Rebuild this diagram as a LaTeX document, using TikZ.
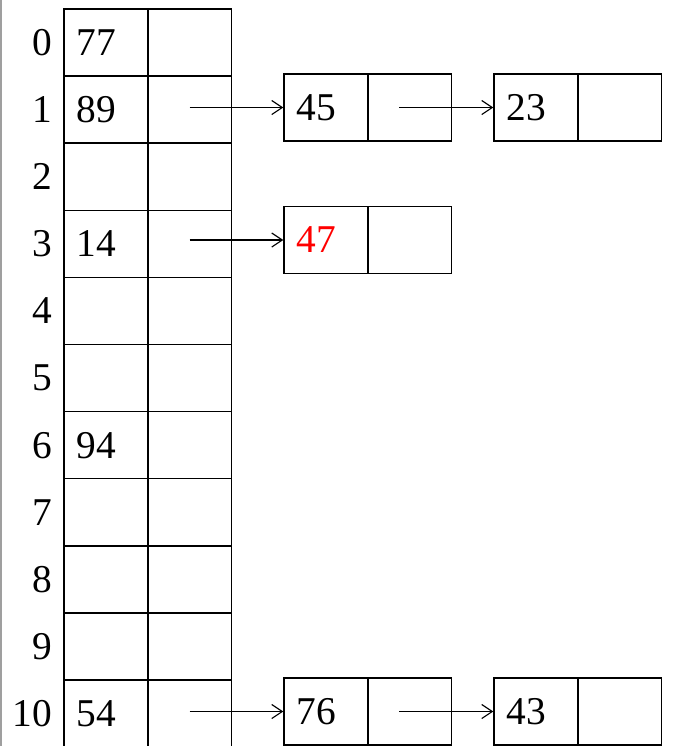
\documentclass[tikz,border=0pt]{standalone}
\usepackage{fontspec}
\setmainfont{Liberation Serif}
\usetikzlibrary{arrows.meta}

\tikzset{
  cell/.style={draw,line width=1pt,minimum height=1.6775cm,inner xsep=0.325cm,
    inner ysep=0pt,text width=1.45cm,align=left,font=\fontsize{28}{30}\selectfont},
  idx/.style={anchor=east,inner sep=0pt,font=\fontsize{28}{30}\selectfont},
  >={Straight Barb[length=7.5pt,width=10pt]}
}

\begin{document}
\begin{tikzpicture}[x=0.025cm,y=-0.025cm]
                \useasboundingbox (0,0) rectangle (679,746);
                \fill[gray!75] (0,0) rectangle (2.5,746);
                % hash table
                \foreach \i/\v in {0/77,1/89,2/{},3/14,4/{},5/{},6/94,7/{},8/{},9/{},10/54} {
                    \node[cell] (k\i) at (106,{9+67.1*(\i+0.5)}) {\v};
                    \node[cell] (p\i) at (189.5,{9+67.1*(\i+0.5)}) {};
                    \node[idx] (n\i) at (52,{9+67.1*(\i+0.5)}) {\i};
                }
                % chains
                \node[cell] (k45) at (326,107.5) {45};
                \node[cell] (p45) at (409.5,107.5) {};
                \node[cell] (k23) at (536,107.5) {23};
                \node[cell] (p23) at (619.5,107.5) {};
                \node[cell,text=red] (k47) at (326,240) {47};
                \node[cell] (p47) at (409.5,240) {};
                \node[cell] (k76) at (326,711.5) {76};
                \node[cell] (p76) at (409.5,711.5) {};
                \node[cell] (k43) at (536,711.5) {43};
                \node[cell] (p43) at (619.5,711.5) {};
                \draw[line width=0.8pt,->] (p1 |- k45.west) -- (k45.west);
                \draw[line width=0.8pt,->] ([xshift=-0.25cm]p45.center) -- (k23.west);
                \draw[line width=0.8pt,->] (p3 |- k47.west) -- (k47.west);
                \draw[line width=0.8pt,->] (p10 |- k76.west) -- (k76.west);
                \draw[line width=0.8pt,->] ([xshift=-0.25cm]p76.center) -- (k43.west);
            \end{tikzpicture}
\end{document}
